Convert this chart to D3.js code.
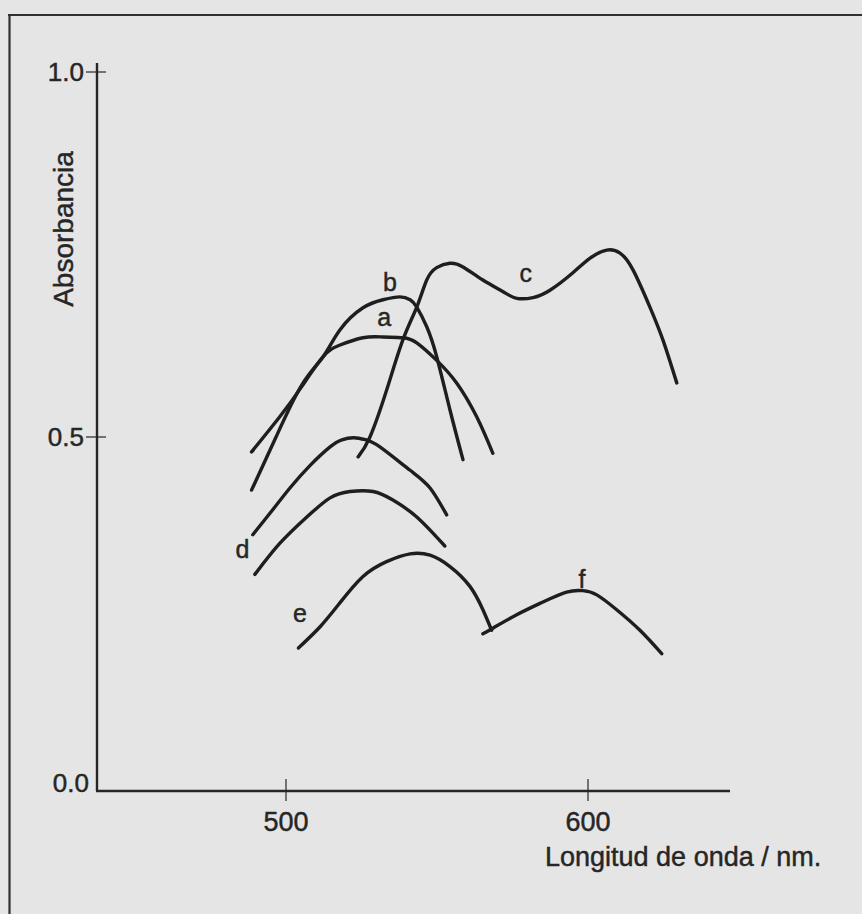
<!DOCTYPE html>
<html>
<head>
<meta charset="utf-8">
<script src="https://cdn.jsdelivr.net/npm/d3@7/dist/d3.min.js"></script>
<style>
  html, body { margin: 0; padding: 0; background: #e5e5e5; }
  svg { display: block; }
  text { font-family: "Liberation Sans", Arial, Helvetica, sans-serif; fill: #262626; stroke: #262626; stroke-width: 0.45px; }
</style>
</head>
<body>
<svg id="chart" width="862" height="914"></svg>
<script>
// Absorption spectra, wavelength (nm) vs absorbance
const curveA = [[488.6,0.479],[498.0,0.528],[505.2,0.569],[512.3,0.610],[517.9,0.626],[525.5,0.636],[532.1,0.637],[538.7,0.636],[543.3,0.629],[549.9,0.605],[556.5,0.574],[563.1,0.528],[568.5,0.477]];
const curveB = [[488.6,0.425],[496.7,0.500],[505.2,0.571],[512.3,0.610],[517.9,0.647],[525.5,0.677],[532.1,0.688],[537.7,0.692],[541.1,0.688],[543.3,0.678],[546.6,0.651],[549.9,0.610],[554.3,0.537],[558.6,0.468]];
const curveC = [[523.9,0.472],[527.8,0.500],[533.3,0.564],[538.7,0.633],[543.3,0.678],[546.6,0.715],[549.9,0.732],[554.3,0.738],[558.6,0.733],[565.2,0.715],[571.9,0.699],[576.4,0.690],[581.8,0.691],[587.4,0.701],[595.0,0.725],[600.7,0.745],[606.2,0.756],[610.6,0.752],[614.9,0.729],[620.5,0.678],[624.8,0.633],[629.4,0.574]];
const curveD1 = [[489.0,0.362],[495.0,0.394],[501.3,0.428],[508.0,0.460],[514.6,0.486],[518.5,0.496],[522.5,0.499],[526.5,0.496],[531.1,0.486],[541.1,0.453],[547.7,0.428],[553.2,0.390]];
const curveD2 = [[489.7,0.306],[498.0,0.350],[506.9,0.387],[514.6,0.414],[521.2,0.423],[528.8,0.423],[535.4,0.411],[543.3,0.387],[552.6,0.346]];
const curveE = [[504.1,0.202],[511.3,0.232],[517.9,0.266],[525.5,0.303],[533.3,0.324],[541.1,0.335],[547.7,0.333],[554.3,0.317],[560.9,0.289],[565.2,0.256],[568.1,0.227]];
const curveF = [[565.2,0.222],[568.5,0.230],[576.4,0.249],[585.1,0.267],[592.9,0.281],[598.3,0.283],[602.9,0.277],[609.5,0.256],[617.2,0.227],[624.4,0.194]];

const seriesList = [curveA, curveB, curveC, curveD1, curveD2, curveE, curveF];

// curve letters and the (wavelength, absorbance) where each sits
const curveLabels = ["a", "b", "c", "d", "e", "f"];
const labelAt = [[532.5,0.652],[534.4,0.700],[579.4,0.712],[485.6,0.329],[504.6,0.238],[598.0,0.287]];

const yTicks = [0.0, 0.5, 1.0];
const yTickText = ["0.0", "0.5", "1.0"];
const xTicks = [500, 600];
const xTitle = "Longitud de onda / nm.";
const yTitle = "Absorbancia";

const svg = d3.select("#chart");
const ink = "#262626";

// frame lines along the top and left edges
svg.append("line").attr("x1", 8).attr("x2", 862).attr("y1", 15).attr("y2", 15)
  .attr("stroke", "#303030").attr("stroke-width", 2.2);
svg.append("line").attr("x1", 9.5).attr("x2", 9.5).attr("y1", 14).attr("y2", 914)
  .attr("stroke", "#303030").attr("stroke-width", 2.2);

const x = d3.scaleLinear().domain([500, 600]).range([286, 588]);
const y = d3.scaleLinear().domain([0, 0.5, 1.0]).range([791, 437, 72]);

const x0 = x.invert(97), x1 = x.invert(730);

// axes
const g = svg.append("g");
g.append("line").attr("x1", x(x0)).attr("x2", x(x0)).attr("y1", 63).attr("y2", y(0))
  .attr("stroke", ink).attr("stroke-width", 2.4);
g.append("line").attr("x1", x(x0) - 1).attr("x2", x(x1)).attr("y1", y(0)).attr("y2", y(0))
  .attr("stroke", ink).attr("stroke-width", 2.4);

// y ticks cross the axis
yTicks.forEach((v, i) => {
  if (v > 0) {
    g.append("line").attr("x1", 86).attr("x2", 106).attr("y1", y(v)).attr("y2", y(v))
      .attr("stroke", ink).attr("stroke-width", 1.2);
  }
  g.append("text")
    .attr("x", v > 0 ? 84 : 89)
    .attr("y", v > 0 ? y(v) + 9 : y(v) + 1)
    .attr("text-anchor", "end")
    .attr("font-size", 26)
    .text(yTickText[i]);
});

xTicks.forEach(v => {
  g.append("line").attr("x1", x(v)).attr("x2", x(v)).attr("y1", 779).attr("y2", 801)
    .attr("stroke", ink).attr("stroke-width", 1.2);
  g.append("text").attr("x", x(v)).attr("y", 831)
    .attr("text-anchor", "middle").attr("font-size", 27).text(v);
});

g.append("text").attr("x", 545).attr("y", 866).attr("font-size", 27).text(xTitle);
g.append("text").attr("transform", "translate(73,229) rotate(-90)")
  .attr("text-anchor", "middle").attr("font-size", 28).text(yTitle);

// spectra
const line = d3.line()
  .x(d => x(d[0]))
  .y(d => y(d[1]))
  .curve(d3.curveNatural);

svg.append("g").selectAll("path").data(seriesList).join("path")
  .attr("d", line)
  .attr("fill", "none")
  .attr("stroke", "#1e1e1e")
  .attr("stroke-width", 3.4)
  .attr("stroke-linecap", "round")
  .attr("stroke-linejoin", "round");

svg.append("g").selectAll("text").data(curveLabels).join("text")
  .attr("x", (d, i) => x(labelAt[i][0]))
  .attr("y", (d, i) => y(labelAt[i][1]))
  .attr("text-anchor", "middle")
  .attr("font-size", 25)
  .text(d => d);
</script>
</body>
</html>
